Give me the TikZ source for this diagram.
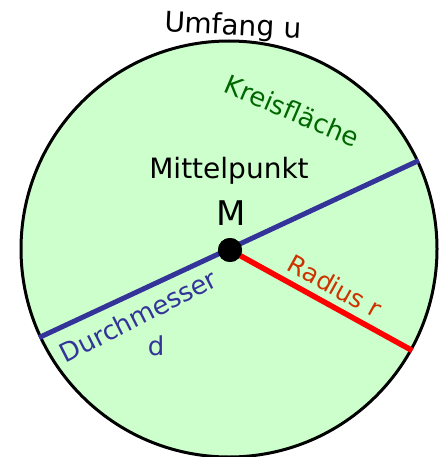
\documentclass[tikz,border=0pt]{standalone}
\usepackage{fontspec}
\setmainfont{DejaVu Sans}
\definecolor{fillgreen}{HTML}{CCFFCC}
\definecolor{txtgreen}{HTML}{006600}
\definecolor{diamblue}{HTML}{333399}
\definecolor{radred}{HTML}{FF0000}
\definecolor{radtxt}{HTML}{CC3300}
\begin{document}
\begin{tikzpicture}[x=1pt,y=-1pt,
  lbl/.style={inner sep=0pt, font=\fontsize{26}{29}\selectfont}]
\useasboundingbox (0,0) rectangle (447,457);
\node[circle, draw=black, line width=3pt, fill=fillgreen, minimum size=416pt, inner sep=0pt] (circ) at (229,249) {};
\draw[diamblue, line width=5pt] (circ.25) -- (circ.205);
\node[circle, fill=black, minimum size=24pt, inner sep=0pt] (dot) at (230,250) {};
\draw[radred, line width=5.5pt] (dot.center) -- (circ.-29);
\node[circle, fill=black, minimum size=24pt, inner sep=0pt] at (dot.center) {};
\node[lbl, rotate=-3, font=\fontsize{28}{31}\selectfont] (umf) at (233,27) {Umfang u};
\node[lbl, rotate=-23, text=txtgreen] (kf) at (292,111) {Kreisfläche};
\node[lbl, font=\fontsize{28}{31}\selectfont] (mp) at (229,171) {Mittelpunkt};
\node[lbl, font=\fontsize{34}{37}\selectfont] (mm) at (231,213) {M};
\node[lbl, rotate=27, text=diamblue] (dm) at (138,316) {Durchmesser};
\node[lbl, text=diamblue] (dd) at (156,346) {d};
\node[lbl, rotate=-29, text=radtxt, font=\fontsize{25}{28}\selectfont] (rr) at (335,286) {Radius r};
\end{tikzpicture}
\end{document}
